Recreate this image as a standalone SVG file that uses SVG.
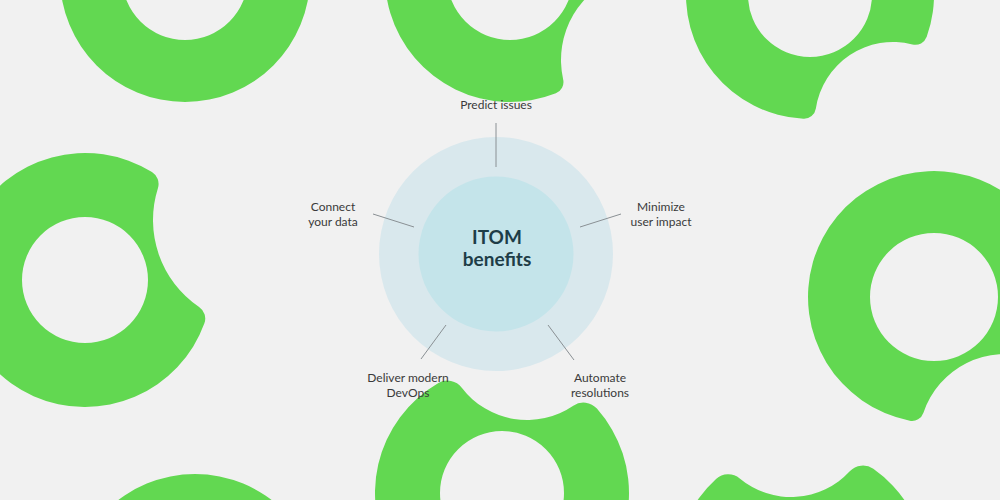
<svg xmlns="http://www.w3.org/2000/svg" width="1000" height="500" viewBox="0 0 1000 500">
  <style>
    .blob { fill: #62d851; fill-rule: evenodd; }
    .lbl { font-family: Lato, "Open Sans", "Liberation Sans", sans-serif; font-size: 12px; fill: #3a3a3a; text-anchor: middle; }
    .title { font-family: Lato, "Open Sans", "Liberation Sans", sans-serif; font-size: 19px; font-weight: bold; fill: #1e3d47; text-anchor: middle; }
    .conn { stroke: #8a9094; stroke-width: 1; fill: none; }
  </style>
  <rect width="1000" height="500" fill="#f1f1f1"/>
  <g id="background-shapes">
    <path class="blob" d="M 310 -23 A 125 125 0 1 1 60 -23 A 125 125 0 1 1 310 -23 Z M 248 -23 A 63 63 0 1 0 122 -23 A 63 63 0 1 0 248 -23 Z"/>
    <path class="blob" d="M 555.85 93.29 A 125 125 0 1 1 634.03 -38.58 A 12 12 0 0 1 625.43 -25.55 A 89 89 0 0 0 563.16 79.49 A 12 12 0 0 1 555.85 93.29 Z M 573 -23 A 63 63 0 1 0 447 -23 A 63 63 0 1 0 573 -23 Z"/>
    <path class="blob" d="M 803.4 118.8 A 124 124 0 1 1 926.72 36.86 A 12 12 0 0 1 912.44 44.43 A 78 78 0 0 0 815.86 108.59 A 12 12 0 0 1 803.4 118.8 Z M 872 -5 A 62 62 0 1 0 748 -5 A 62 62 0 1 0 872 -5 Z"/>
    <path class="blob" d="M 204.41 323.27 A 127 127 0 1 1 151.95 172.08 A 14 14 0 0 1 157.92 188.21 A 105 105 0 0 0 199.09 306.91 A 14 14 0 0 1 204.41 323.27 Z M 148 280 A 63 63 0 1 0 22 280 A 63 63 0 1 0 148 280 Z"/>
    <path class="blob" d="M 909.76 420.64 A 126 126 0 1 1 1047.15 352.45 A 12 12 0 0 1 1032.53 358.54 A 86 86 0 0 0 923.45 412.68 A 12 12 0 0 1 909.76 420.64 Z M 998 297 A 64 64 0 1 0 870 297 A 64 64 0 1 0 998 297 Z"/>
    <path class="blob" d="M 596.89 408.6 A 127 127 0 1 1 438.44 383.06 A 18 18 0 0 1 461.77 387.72 A 82 82 0 0 0 573.28 405.7 A 18 18 0 0 1 596.89 408.6 Z M 564 493 A 62 62 0 1 0 440 493 A 62 62 0 1 0 564 493 Z"/>
    <path class="blob" d="M 873.31 468.82 A 126 126 0 1 1 716.04 478.95 A 18 18 0 0 1 739.72 478.42 A 80 80 0 0 0 849.76 471.33 A 18 18 0 0 1 873.31 468.82 Z M 864 572 A 63 63 0 1 0 738 572 A 63 63 0 1 0 864 572 Z"/>
    <path class="blob" d="M 321 600 A 126 126 0 1 1 69 600 A 126 126 0 1 1 321 600 Z M 258 600 A 63 63 0 1 0 132 600 A 63 63 0 1 0 258 600 Z"/>
  </g>
  <g id="hub">
    <circle cx="496" cy="254" r="117" fill="#d9e8ed"/>
    <circle cx="496" cy="254" r="77.5" fill="#c4e4ea"/>
    <text class="title" x="497" y="244">ITOM</text>
    <text class="title" x="497" y="266">benefits</text>
  </g>
  <g id="connectors">
    <line class="conn" x1="496" y1="123" x2="496" y2="167"/>
    <line class="conn" x1="373" y1="214" x2="414" y2="227"/>
    <line class="conn" x1="621" y1="214" x2="580" y2="227"/>
    <line class="conn" x1="446" y1="325" x2="421" y2="359"/>
    <line class="conn" x1="548" y1="325" x2="574" y2="360"/>
  </g>
  <g id="predict-issues">
    <text class="lbl" x="496" y="109">Predict issues</text>
  </g>
  <g id="connect-your-data">
    <text class="lbl" x="333" y="211">Connect</text>
    <text class="lbl" x="333" y="226">your data</text>
  </g>
  <g id="minimize-user-impact">
    <text class="lbl" x="661" y="211">Minimize</text>
    <text class="lbl" x="661" y="226">user impact</text>
  </g>
  <g id="deliver-modern-devops">
    <text class="lbl" x="408" y="382">Deliver modern</text>
    <text class="lbl" x="408" y="397">DevOps</text>
  </g>
  <g id="automate-resolutions">
    <text class="lbl" x="600" y="382">Automate</text>
    <text class="lbl" x="600" y="397">resolutions</text>
  </g>
</svg>
